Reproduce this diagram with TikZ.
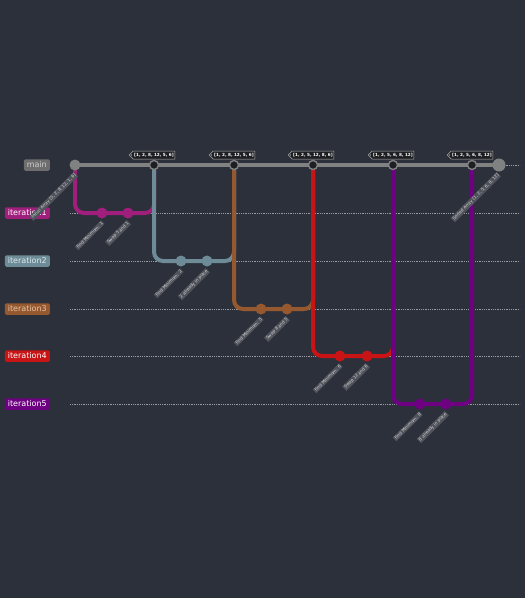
\documentclass[tikz,border=0pt]{standalone}
\usepackage{fontspec}
\setmainfont{DejaVu Sans}
\usetikzlibrary{shapes.symbols}

\definecolor{bg}{HTML}{2C303B}
\definecolor{maingray}{HTML}{808282}
\definecolor{maintext}{HTML}{CFCFCF}
\definecolor{mainbox}{HTML}{6E6E6E}
\definecolor{mergefill}{HTML}{1E1F22}
\definecolor{lanegray}{HTML}{9A9CA2}
\definecolor{labelfill}{HTML}{50535B}
\definecolor{labeltext}{HTML}{D8D8D8}
\definecolor{tagfill}{HTML}{1E1F22}
\definecolor{taggray}{HTML}{B0B0B0}
\definecolor{iterone}{HTML}{A01E7C}
\definecolor{itertwo}{HTML}{6E8C97}
\definecolor{itertwotext}{HTML}{DCE8EC}
\definecolor{iterthree}{HTML}{96592F}
\definecolor{iterthreetext}{HTML}{E2C4A8}
\definecolor{iterfour}{HTML}{C81414}
\definecolor{iterfive}{HTML}{6E0082}

\begin{document}
\begin{tikzpicture}[x=1pt,y=-1pt,
  lane/.style={draw=lanegray,line width=0.6pt,dash pattern=on 0.9pt off 0.9pt},
  branch label/.style={rounded corners=1.5pt,minimum height=11.5pt,inner sep=1pt,anchor=east,font=\fontsize{8}{9}\selectfont},
  branch line/.style={line width=4pt,rounded corners=9pt},
  commit/.style={circle,minimum size=11pt,inner sep=0pt},
  merge/.style={circle,minimum size=9pt,inner sep=0pt,fill=mergefill,draw=maingray,line width=1.4pt},
  commit label/.style={rotate=45,anchor=east,fill=labelfill,text=labeltext,inner sep=1pt,font=\fontsize{4.2}{4.7}\selectfont},
  tag/.style={signal,signal to=west,signal pointer angle=90,draw=taggray,fill=tagfill,text=white,line width=0.5pt,inner sep=1pt,minimum height=8pt,font=\fontsize{4.2}{5}\selectfont\bfseries}]

\fill[bg] (0,0) rectangle (525,598);
\useasboundingbox (0,0) rectangle (525,598);

% lanes
\draw[lane] (70,165) -- (520,165);
\draw[lane] (70,213) -- (520,213);
\draw[lane] (70,261) -- (520,261);
\draw[lane] (70,309) -- (520,309);
\draw[lane] (70,356) -- (520,356);
\draw[lane] (70,404) -- (520,404);

% branch names
\node[branch label,fill=mainbox,text=maintext,minimum width=26pt](main label) at (50,165) {main};
\node[branch label,fill=iterone,text=white,minimum width=45pt](iteration1 label) at (50,213) {iteration1};
\node[branch label,fill=itertwo,text=itertwotext,minimum width=45pt](iteration2 label) at (50,261) {iteration2};
\node[branch label,fill=iterthree,text=iterthreetext,minimum width=45pt](iteration3 label) at (50,309) {iteration3};
\node[branch label,fill=iterfour,text=white,minimum width=45pt](iteration4 label) at (50,356) {iteration4};
\node[branch label,fill=iterfive,text=white,minimum width=45pt](iteration5 label) at (50,404) {iteration5};

% commit positions
\coordinate (initial array) at (75,165);
\coordinate (find min 1) at (102,213);
\coordinate (swap 5 1) at (128,213);
\coordinate (merge 1) at (154,165);
\coordinate (find min 2) at (181,261);
\coordinate (keep 2) at (207,261);
\coordinate (merge 2) at (234,165);
\coordinate (find min 5) at (261,309);
\coordinate (swap 8 5) at (287,309);
\coordinate (merge 3) at (313,165);
\coordinate (find min 6) at (340,356);
\coordinate (swap 12 6) at (367,356);
\coordinate (merge 4) at (393,165);
\coordinate (find min 8) at (420,404);
\coordinate (keep 8) at (446,404);
\coordinate (merge 5) at (472,165);
\coordinate (sorted array) at (499,165);

% branch lines
\draw[branch line,draw=iterone] (initial array) -- (initial array |- find min 1) -- (merge 1 |- find min 1) -- (merge 1);
\draw[branch line,draw=itertwo] (merge 1) -- (merge 1 |- find min 2) -- (merge 2 |- find min 2) -- (merge 2);
\draw[branch line,draw=iterthree] (merge 2) -- (merge 2 |- find min 5) -- (merge 3 |- find min 5) -- (merge 3);
\draw[branch line,draw=iterfour] (merge 3) -- (merge 3 |- find min 6) -- (merge 4 |- find min 6) -- (merge 4);
\draw[branch line,draw=iterfive] (merge 4) -- (merge 4 |- find min 8) -- (merge 5 |- find min 8) -- (merge 5);

\draw[line width=4pt,draw=maingray] (initial array) -- (sorted array);

% commits
\node[commit,fill=maingray](initial array dot) at (initial array) {};
\node[commit,fill=iterone](find min 1 dot) at (find min 1) {};
\node[commit,fill=iterone](swap 5 1 dot) at (swap 5 1) {};
\node[merge](merge 1 dot) at (merge 1) {};
\node[commit,fill=itertwo](find min 2 dot) at (find min 2) {};
\node[commit,fill=itertwo](keep 2 dot) at (keep 2) {};
\node[merge](merge 2 dot) at (merge 2) {};
\node[commit,fill=iterthree](find min 5 dot) at (find min 5) {};
\node[commit,fill=iterthree](swap 8 5 dot) at (swap 8 5) {};
\node[merge](merge 3 dot) at (merge 3) {};
\node[commit,fill=iterfour](find min 6 dot) at (find min 6) {};
\node[commit,fill=iterfour](swap 12 6 dot) at (swap 12 6) {};
\node[merge](merge 4 dot) at (merge 4) {};
\node[commit,fill=iterfive](find min 8 dot) at (find min 8) {};
\node[commit,fill=iterfive](keep 8 dot) at (keep 8) {};
\node[merge](merge 5 dot) at (merge 5) {};
\node[commit,fill=maingray,minimum size=13pt](sorted array dot) at (sorted array) {};

% commit messages
\node[commit label](initial array text) at ([shift={(1,9)}]initial array) {Initial Array [5, 2, 8, 12, 1, 6]};
\node[commit label](find min 1 text) at ([shift={(1,9)}]find min 1) {Find Minimum: 1};
\node[commit label](swap 5 1 text) at ([shift={(1,9)}]swap 5 1) {Swap 5 and 1};
\node[commit label](find min 2 text) at ([shift={(1,9)}]find min 2) {Find Minimum: 2};
\node[commit label](keep 2 text) at ([shift={(1,9)}]keep 2) {2 already in place};
\node[commit label](find min 5 text) at ([shift={(1,9)}]find min 5) {Find Minimum: 5};
\node[commit label](swap 8 5 text) at ([shift={(1,9)}]swap 8 5) {Swap 8 and 5};
\node[commit label](find min 6 text) at ([shift={(1,9)}]find min 6) {Find Minimum: 6};
\node[commit label](swap 12 6 text) at ([shift={(1,9)}]swap 12 6) {Swap 12 and 6};
\node[commit label](find min 8 text) at ([shift={(1,9)}]find min 8) {Find Minimum: 8};
\node[commit label](keep 8 text) at ([shift={(1,9)}]keep 8) {8 already in place};
\node[commit label](sorted array text) at ([shift={(0,9)}]sorted array) {Sorted Array [1, 2, 5, 6, 8, 12]};

% tags
\node[tag](tag 1) at ([shift={(0,-10)}]merge 1) {[1, 2, 8, 12, 5, 6]};
\node[tag](tag 2) at ([shift={(0,-10)}]merge 2) {[1, 2, 8, 12, 5, 6]};
\node[tag](tag 3) at ([shift={(0,-10)}]merge 3) {[1, 2, 5, 12, 8, 6]};
\node[tag](tag 4) at ([shift={(0,-10)}]merge 4) {[1, 2, 5, 6, 8, 12]};
\node[tag](tag 5) at ([shift={(0,-10)}]merge 5) {[1, 2, 5, 6, 8, 12]};
\fill[taggray] ([xshift=2.5pt]tag 1.west) circle (0.7pt);
\fill[taggray] ([xshift=2.5pt]tag 2.west) circle (0.7pt);
\fill[taggray] ([xshift=2.5pt]tag 3.west) circle (0.7pt);
\fill[taggray] ([xshift=2.5pt]tag 4.west) circle (0.7pt);
\fill[taggray] ([xshift=2.5pt]tag 5.west) circle (0.7pt);

\end{tikzpicture}
\end{document}
